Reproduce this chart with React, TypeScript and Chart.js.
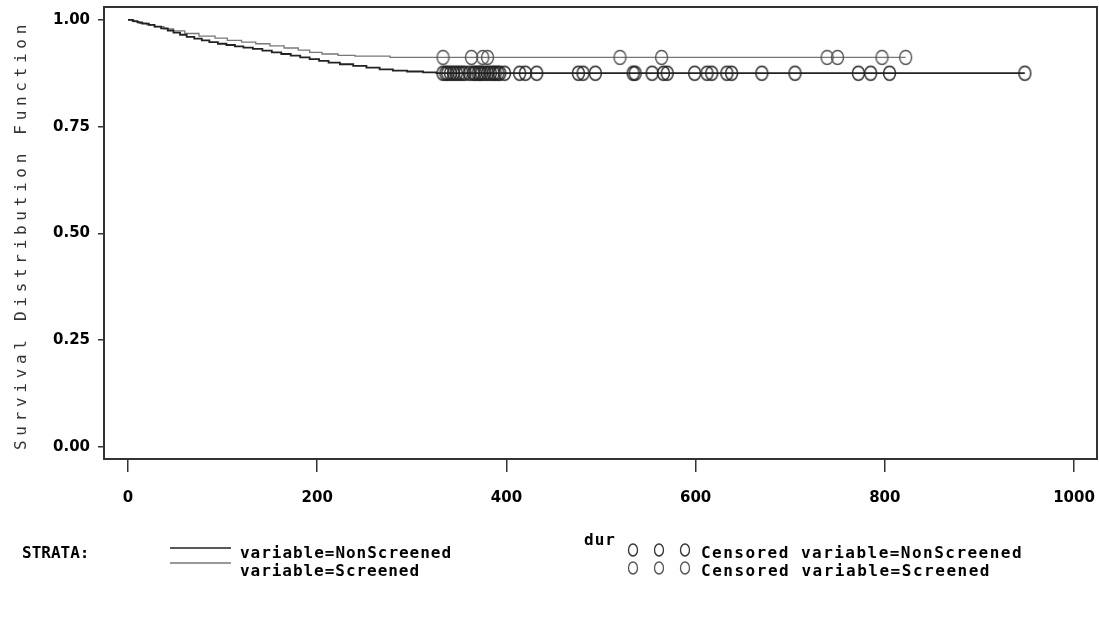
import React, { useEffect, useRef } from "react";
import { Chart, registerables } from "chart.js";
Chart.register(...registerables);

const xTicks = [0, 200, 400, 600, 800, 1000];
const yTicks = [0, 0.25, 0.5, 0.75, 1.0];

const nonScreenedTimes = [0, 5, 10, 15, 22, 28, 35, 42, 48, 55, 62, 70, 78, 86, 95, 104, 113, 122, 132, 142, 152, 162, 172, 182, 192, 202, 212, 224, 238, 252, 266, 280, 295, 312, 326, 948];
const nonScreenedSurv = [1.0, 0.997, 0.994, 0.991, 0.988, 0.984, 0.98, 0.975, 0.97, 0.965, 0.96, 0.956, 0.952, 0.948, 0.944, 0.941, 0.938, 0.935, 0.932, 0.928, 0.924, 0.92, 0.916, 0.912, 0.908, 0.904, 0.9, 0.896, 0.892, 0.888, 0.884, 0.881, 0.879, 0.877, 0.875, 0.875];

const screenedTimes = [0, 6, 12, 20, 28, 38, 48, 60, 75, 92, 105, 120, 135, 150, 165, 180, 192, 205, 222, 240, 277, 822];
const screenedSurv = [1.0, 0.996, 0.992, 0.988, 0.984, 0.979, 0.974, 0.968, 0.962, 0.957, 0.952, 0.948, 0.944, 0.939, 0.934, 0.929, 0.924, 0.92, 0.917, 0.915, 0.912, 0.912];

const nonScreenedCensored = [333, 336, 338, 341, 344, 347, 350, 353, 356, 361, 365, 367, 370, 372, 374, 377, 380, 383, 386, 388, 391, 393, 398, 414, 420, 432, 476, 481, 494, 534, 536, 554, 566, 570, 599, 612, 617, 633, 638, 670, 705, 772, 785, 805, 948];
const screenedCensored = [333, 363, 375, 380, 520, 564, 739, 750, 797, 822];

const strataLabels = ["variable=NonScreened", "variable=Screened"];
const censoredLabels = ["Censored variable=NonScreened", "Censored variable=Screened"];
const xTitle = "dur";
const yTitle = "Survival Distribution Function";

function survAt(times: number[], surv: number[], t: number) {
  let v = surv[0];
  for (let i = 0; i < times.length; i++) if (times[i] <= t) v = surv[i];
  return v;
}

function makeEllipse(color: string, rx: number, ry: number, lw: number) {
  const c = document.createElement("canvas");
  c.width = Math.ceil(rx * 2 + lw * 2 + 2);
  c.height = Math.ceil(ry * 2 + lw * 2 + 2);
  const g = c.getContext("2d")!;
  g.strokeStyle = color;
  g.lineWidth = lw;
  g.beginPath();
  g.ellipse(c.width / 2, c.height / 2, rx, ry, 0, 0, Math.PI * 2);
  g.stroke();
  return c;
}

const BLACK = "#222";
const GRAY = "#777";
const tickFont = { family: "'DejaVu Sans', sans-serif", size: 15, weight: "bold" as const };

function drawSpaced(ctx: CanvasRenderingContext2D, text: string, x: number, y: number, target: number) {
  (ctx as any).letterSpacing = "0px";
  const w = ctx.measureText(text).width;
  const sp = Math.max(0, (target - w) / text.length);
  (ctx as any).letterSpacing = sp + "px";
  ctx.fillText(text, x, y);
  (ctx as any).letterSpacing = "0px";
}

const decorPlugin = {
  id: "decor",
  beforeDatasetsDraw(chart: any) {
    const { ctx, chartArea: a } = chart;
    ctx.save();
    ctx.strokeStyle = "#333";
    ctx.lineWidth = 2;
    ctx.strokeRect(a.left, a.top, a.right - a.left, a.bottom - a.top);
    ctx.restore();
  },
  afterDraw(chart: any) {
    const { ctx } = chart;
    ctx.save();
    ctx.fillStyle = "#333";
    ctx.font = "16px 'DejaVu Sans Mono', monospace";
    ctx.textBaseline = "middle";
    ctx.textAlign = "left";
    ctx.translate(22, 450);
    ctx.rotate(-Math.PI / 2);
    drawSpaced(ctx, yTitle, 0, 0, 430);
    ctx.restore();

    ctx.save();
    ctx.fillStyle = "#000";
    ctx.font = "bold 16px 'DejaVu Sans Mono', monospace";
    ctx.textBaseline = "middle";
    ctx.textAlign = "left";
    drawSpaced(ctx, xTitle, 584, 541, 32);

    const r1 = 554, r2 = 572;
    drawSpaced(ctx, "STRATA:", 22, r1, 64);
    drawSpaced(ctx, strataLabels[0], 240, r1, 212);
    drawSpaced(ctx, strataLabels[1], 240, r2, 180);
    drawSpaced(ctx, censoredLabels[0], 701, r1, 322);
    drawSpaced(ctx, censoredLabels[1], 701, r2, 290);

    ctx.lineWidth = 1.5;
    ctx.strokeStyle = BLACK;
    ctx.beginPath();
    ctx.moveTo(170, r1 - 6);
    ctx.lineTo(231, r1 - 6);
    ctx.stroke();
    ctx.strokeStyle = GRAY;
    ctx.beginPath();
    ctx.moveTo(170, r2 - 9);
    ctx.lineTo(231, r2 - 9);
    ctx.stroke();

    const cx = [633, 659, 685];
    ctx.lineWidth = 1.3;
    [r1 - 4, r2 - 4].forEach((yy, k) => {
      ctx.strokeStyle = k === 0 ? "#333" : "#555";
      cx.forEach((x) => {
        ctx.beginPath();
        ctx.ellipse(x, yy, 4.5, 6, 0, 0, Math.PI * 2);
        ctx.stroke();
      });
    });
    ctx.restore();
  },
};

export default function App() {
  const ref = useRef<HTMLCanvasElement | null>(null);
  useEffect(() => {
    document.body.style.margin = "0";
    const blackCircle = makeEllipse("#222", 6, 7, 1.4);
    const grayCircle = makeEllipse("#555", 6, 7, 1.4);
    const chart = new Chart(ref.current!, {
      type: "scatter",
      data: {
        datasets: [
          {
            label: "Censored NonScreened",
            data: nonScreenedCensored.map((t) => ({ x: t, y: survAt(nonScreenedTimes, nonScreenedSurv, t) })),
            pointStyle: blackCircle as any,
            pointRadius: 6,
            showLine: false,
            order: 1,
          },
          {
            label: "Censored Screened",
            data: screenedCensored.map((t) => ({ x: t, y: survAt(screenedTimes, screenedSurv, t) })),
            pointStyle: grayCircle as any,
            pointRadius: 6,
            showLine: false,
            order: 1,
          },
          {
            label: strataLabels[0],
            data: nonScreenedTimes.map((t, i) => ({ x: t, y: nonScreenedSurv[i] })),
            showLine: true,
            stepped: true,
            borderColor: BLACK,
            borderWidth: 1.8,
            pointRadius: 0,
            order: 2,
          },
          {
            label: strataLabels[1],
            data: screenedTimes.map((t, i) => ({ x: t, y: screenedSurv[i] })),
            showLine: true,
            stepped: true,
            borderColor: GRAY,
            borderWidth: 1.3,
            pointRadius: 0,
            order: 2,
          },
        ],
      },
      options: {
        animation: false,
        responsive: false,
        maintainAspectRatio: false,
        layout: { autoPadding: false, padding: { top: 7, right: 2, left: 0, bottom: 0 } },
        plugins: { legend: { display: false }, tooltip: { enabled: false } },
        scales: {
          x: {
            type: "linear",
            min: -25.4,
            max: 1024.3,
            afterBuildTicks: (s: any) => {
              s.ticks = xTicks.map((v) => ({ value: v }));
            },
            afterFit: (s: any) => {
              s.height = 161;
              s.paddingLeft = 0;
              s.paddingRight = 0;
            },
            grid: { drawOnChartArea: false, drawTicks: true, tickLength: 13, color: "#333", lineWidth: 1.5 },
            border: { display: false },
            ticks: { color: "#000", font: tickFont, padding: 17, maxRotation: 0, autoSkip: false, callback: (v: any) => String(v) },
          },
          y: {
            type: "linear",
            min: -0.028,
            max: 1.03,
            afterBuildTicks: (s: any) => {
              s.ticks = yTicks.map((v) => ({ value: v }));
            },
            afterFit: (s: any) => {
              s.width = 104;
              s.paddingTop = 0;
              s.paddingBottom = 0;
            },
            grid: { drawOnChartArea: false, drawTicks: true, tickLength: 6, color: "#333", lineWidth: 1.5 },
            border: { display: false },
            ticks: { color: "#000", font: tickFont, padding: 8, autoSkip: false, callback: (v: any) => Number(v).toFixed(2) },
          },
        },
      },
      plugins: [decorPlugin],
    });
    return () => chart.destroy();
  }, []);
  return (
    <div style={{ position: "absolute", left: 0, top: 0, width: 1099, height: 620, background: "#fff" }}>
      <canvas ref={ref} width={1099} height={620} style={{ width: 1099, height: 620, display: "block" }} />
    </div>
  );
}
